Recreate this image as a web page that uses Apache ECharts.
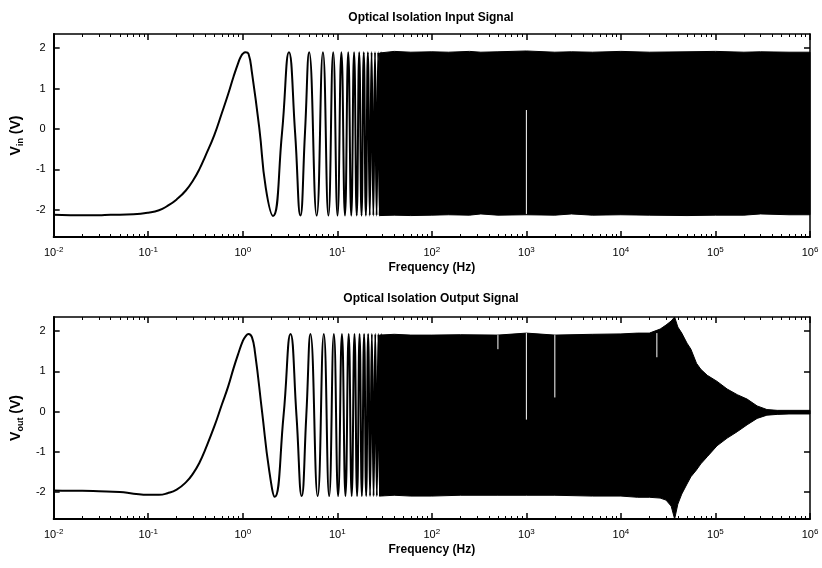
<!DOCTYPE html>
<html>
<head>
<meta charset="utf-8">
<script src="https://cdn.jsdelivr.net/npm/echarts@6/dist/echarts.min.js"></script>
<style>
  html, body { margin: 0; padding: 0; background: #fff; }
  #chart { width: 822px; height: 568px; }
</style>
</head>
<body>
<div id="chart"></div>
<script>
// ---------- axis ticks ----------
const decadeTicks = [0.01, 0.1, 1, 10, 100, 1000, 10000, 100000, 1000000];
const yTicks = [-2, -1, 0, 1, 2];

// ---------- input signal: resolved low-frequency sweep (Hz, V) ----------
const inFreq = [0.01, 0.015, 0.02, 0.03, 0.04, 0.05, 0.07, 0.1, 0.13, 0.16, 0.2, 0.25, 0.3, 0.35, 0.4,
  0.5, 0.6, 0.7, 0.8, 0.9, 0.95, 1.0, 1.07, 1.15, 1.25, 1.5, 1.75, 2.09, 2.6, 3.08, 3.58, 4.07, 4.55, 5.04,
  6.05, 7.05, 8.05, 9.05, 10.05, 11.05, 12.05, 13.05, 14.05, 15.05, 16.05, 17.05, 18.05, 19.05,
  20.05, 21.05, 22.05, 23.05, 24.05, 25.05, 26.05, 27.05, 28.05, 29.05, 30.05];
const inVolt = [-2.12, -2.13, -2.13, -2.13, -2.12, -2.12, -2.11, -2.07, -2.01, -1.9, -1.74, -1.52, -1.26, -0.98, -0.68,
  -0.15, 0.39, 0.86, 1.3, 1.65, 1.78, 1.86, 1.9, 1.86, 1.4, 0.0, -1.45, -2.15, -0.1, 1.9, -0.1, -2.14, -0.1, 1.9,
  -2.14, 1.9, -2.14, 1.9, -2.14, 1.9, -2.14, 1.9, -2.14, 1.9, -2.14, 1.9, -2.14, 1.9,
  -2.14, 1.9, -2.14, 1.9, -2.14, 1.9, -2.14, 1.9, -2.14, 1.9, -2.14];

// input signal: envelope of the unresolved high-frequency sweep
const inBandFreq  = [28, 40, 60, 100, 150, 250, 330, 500, 1000, 2000, 3000, 5000, 10000, 20000, 50000, 100000, 200000, 300000, 600000, 1000000];
const inBandUpper = [1.88, 1.92, 1.9, 1.91, 1.9, 1.92, 1.9, 1.91, 1.93, 1.9, 1.91, 1.9, 1.92, 1.9, 1.91, 1.92, 1.9, 1.91, 1.9, 1.9];
const inBandLower = [-2.14, -2.13, -2.14, -2.13, -2.12, -2.13, -2.1, -2.13, -2.12, -2.13, -2.1, -2.13, -2.12, -2.13, -2.14, -2.13, -2.13, -2.1, -2.12, -2.12];
// sample dropouts inside the band: [Hz, from V, to V]
const inGaps = [[1000, 0.47, -2.1]];

// ---------- output signal: resolved low-frequency sweep ----------
const outFreq = [0.01, 0.015, 0.02, 0.03, 0.05, 0.07, 0.1, 0.13, 0.16, 0.2, 0.25, 0.3, 0.35, 0.4,
  0.5, 0.6, 0.7, 0.8, 0.9, 1.0, 1.07, 1.15, 1.25, 1.35, 1.6, 1.9, 2.18, 2.7, 3.2, 3.7, 4.2, 4.7, 5.2,
  6.2, 7.2, 8.2, 9.2, 10.2, 11.2, 12.2, 13.2, 14.2, 15.2, 16.2, 17.2, 18.2, 19.2,
  20.2, 21.2, 22.2, 23.2, 24.2, 25.2, 26.2, 27.2, 28.2, 29.2, 30.2];
const outVolt = [-1.96, -1.97, -1.97, -1.98, -2.0, -2.04, -2.07, -2.07, -2.03, -1.94, -1.76, -1.53, -1.26, -0.95,
  -0.37, 0.17, 0.62, 1.08, 1.45, 1.75, 1.87, 1.93, 1.85, 1.45, 0.0, -1.45, -2.12, -0.1, 1.93, -0.1, -2.1, -0.1, 1.93,
  -2.1, 1.93, -2.1, 1.93, -2.1, 1.93, -2.1, 1.93, -2.1, 1.93, -2.1, 1.93, -2.1, 1.93,
  -2.1, 1.93, -2.1, 1.93, -2.1, 1.93, -2.1, 1.93, -2.1, 1.93, -2.1];

// output signal: envelope of the unresolved sweep, with resonance and roll-off
const outBandFreq  = [28, 40, 60, 100, 200, 500, 1000, 2000, 5000, 10000, 15000, 20000, 26000, 30000, 34000, 37000,
  40000, 44000, 50000, 55000, 63000, 70000, 82000, 104000, 133000, 170000, 216000, 276000, 350000, 450000, 600000, 1000000];
const outBandUpper = [1.9, 1.92, 1.9, 1.9, 1.91, 1.9, 1.95, 1.9, 1.92, 1.93, 1.95, 1.95, 2.05, 2.15, 2.25, 2.35,
  2.1, 1.95, 1.7, 1.55, 1.2, 1.05, 0.9, 0.75, 0.56, 0.42, 0.31, 0.14, 0.05, 0.03, 0.03, 0.03];
const outBandLower = [-2.1, -2.08, -2.1, -2.1, -2.08, -2.08, -2.08, -2.08, -2.1, -2.1, -2.13, -2.13, -2.15, -2.2, -2.35, -2.67,
  -2.3, -2.05, -1.8, -1.62, -1.45, -1.3, -1.12, -0.85, -0.66, -0.5, -0.33, -0.17, -0.09, -0.07, -0.06, -0.06];
const outGaps = [[500, 1.9, 1.55], [1000, 1.95, -0.2], [2000, 1.9, 0.35], [24000, 1.95, 1.35]];

// ---------- helpers ----------
const FONT = '"Liberation Sans", Arial, Helvetica, sans-serif';
const minorTicks = [];
for (let e = -2; e < 6; e++) {
  for (let m = 2; m <= 9; m++) minorTicks.push(+(m * Math.pow(10, e)).toPrecision(3));
}

const grids = [
  { left: 53, top: 34, width: 757, height: 203 },
  { left: 53, top: 317, width: 757, height: 202 }
];

function xAxesFor(gi) {
  const base = {
    type: 'log', logBase: 10, min: 0.01, max: 1000000, gridIndex: gi,
    splitLine: { show: false }, minorTick: { show: false }
  };
  const lineStyle = { color: '#000', width: 1.5 };
  return [
    Object.assign({}, base, {
      position: 'bottom',
      axisLine: { show: true, onZero: false, lineStyle: { color: '#000', width: 2 } },
      axisTick: { inside: true, length: 6, customValues: decadeTicks, lineStyle: lineStyle },
      axisLabel: {
        customValues: decadeTicks, margin: 9, color: '#000',
        formatter: v => '{b|10}{s|' + Math.round(Math.log10(v)) + '}',
        rich: {
          b: { fontFamily: FONT, fontSize: 11, color: '#000', lineHeight: 12, verticalAlign: 'bottom', padding: [4, 0, 0, 0] },
          s: { fontFamily: FONT, fontSize: 8, color: '#000', lineHeight: 9, verticalAlign: 'top' }
        }
      },
      name: 'Frequency (Hz)', nameLocation: 'middle', nameGap: 25,
      nameTextStyle: { fontFamily: FONT, fontSize: 12, fontWeight: 'bold', color: '#000' }
    }),
    Object.assign({}, base, {
      position: 'bottom',
      axisLine: { show: false, onZero: false },
      axisTick: { inside: true, length: 3, customValues: minorTicks, lineStyle: { color: '#000', width: 1 } },
      axisLabel: { show: false }
    }),
    Object.assign({}, base, {
      position: 'top',
      axisLine: { show: true, onZero: false, lineStyle: lineStyle },
      axisTick: { inside: true, length: 6, customValues: decadeTicks, lineStyle: lineStyle },
      axisLabel: { show: false }
    }),
    Object.assign({}, base, {
      position: 'top',
      axisLine: { show: false, onZero: false },
      axisTick: { inside: true, length: 3, customValues: minorTicks, lineStyle: { color: '#000', width: 1 } },
      axisLabel: { show: false }
    })
  ];
}

function yAxesFor(gi, sub) {
  const base = { type: 'value', gridIndex: gi, min: -2.67, max: 2.35, splitLine: { show: false } };
  return [
    Object.assign({}, base, {
      position: 'left',
      axisLine: { show: true, onZero: false, lineStyle: { color: '#000', width: 2 } },
      axisTick: { inside: true, length: 6, customValues: yTicks, lineStyle: { color: '#000', width: 1.5 } },
      axisLabel: { customValues: yTicks, margin: 8, fontFamily: FONT, fontSize: 11, color: '#000' },
      name: '{v|V}{sub|' + sub + '}{v| (V)}', nameLocation: 'middle', nameGap: 16,
      nameTextStyle: {
        color: '#000',
        rich: {
          v: { fontFamily: FONT, fontSize: 14, fontWeight: 'bold', color: '#000', lineHeight: 16, verticalAlign: 'top' },
          sub: { fontFamily: FONT, fontSize: 9, fontWeight: 'bold', color: '#000', lineHeight: 9, verticalAlign: 'bottom', padding: [8, 0, 0, 0] }
        }
      }
    }),
    Object.assign({}, base, {
      position: 'right',
      axisLine: { show: true, onZero: false, lineStyle: { color: '#000', width: 1.5 } },
      axisTick: { inside: true, length: 6, customValues: yTicks, lineStyle: { color: '#000', width: 1.5 } },
      axisLabel: { show: false }
    })
  ];
}

function traceSeries(xi, yi, freq, volt) {
  return {
    type: 'line', xAxisIndex: xi, yAxisIndex: yi,
    data: freq.map((f, i) => [f, volt[i]]),
    smooth: 0.5, showSymbol: false, symbol: 'none', silent: true, clip: true,
    lineStyle: { color: '#000', width: 2 }, z: 3
  };
}

function bandSeries(xi, yi, freq, up, lo) {
  return {
    type: 'custom', xAxisIndex: xi, yAxisIndex: yi, silent: true, clip: true, z: 3,
    data: freq.map((f, i) => [f, up[i], lo[i]]),
    encode: { x: 0, y: [1, 2] },
    renderItem(params, api) {
      if (params.dataIndex !== 0) return null;
      const pts = [];
      for (let i = 0; i < freq.length; i++) pts.push(api.coord([freq[i], up[i]]));
      for (let i = freq.length - 1; i >= 0; i--) pts.push(api.coord([freq[i], lo[i]]));
      return { type: 'polygon', shape: { points: pts }, style: { fill: '#000', stroke: '#000', lineWidth: 1 } };
    }
  };
}

function gapSeries(xi, yi, gaps) {
  return {
    type: 'custom', xAxisIndex: xi, yAxisIndex: yi, silent: true, clip: true, z: 4,
    data: gaps,
    encode: { x: 0, y: [1, 2] },
    renderItem(params, api) {
      const a = api.coord([api.value(0), api.value(1)]);
      const b = api.coord([api.value(0), api.value(2)]);
      return { type: 'line', shape: { x1: a[0], y1: a[1], x2: b[0], y2: b[1] }, style: { stroke: '#fff', lineWidth: 1 } };
    }
  };
}

const titleStyle = { fontFamily: FONT, fontSize: 12, fontWeight: 'bold', color: '#000' };

const option = {
  animation: false,
  backgroundColor: '#fff',
  title: [
    { text: 'Optical Isolation Input Signal', left: 431, top: 12, textAlign: 'center', padding: 0, textStyle: titleStyle },
    { text: 'Optical Isolation Output Signal', left: 431, top: 293, textAlign: 'center', padding: 0, textStyle: titleStyle }
  ],
  grid: grids,
  xAxis: xAxesFor(0).concat(xAxesFor(1)),
  yAxis: yAxesFor(0, 'in').concat(yAxesFor(1, 'out')),
  series: [
    traceSeries(0, 0, inFreq, inVolt),
    bandSeries(0, 0, inBandFreq, inBandUpper, inBandLower),
    gapSeries(0, 0, inGaps),
    traceSeries(4, 2, outFreq, outVolt),
    bandSeries(4, 2, outBandFreq, outBandUpper, outBandLower),
    gapSeries(4, 2, outGaps)
  ]
};

const chart = echarts.init(document.getElementById('chart'), null, { renderer: 'canvas' });
chart.setOption(option);
</script>
</body>
</html>
